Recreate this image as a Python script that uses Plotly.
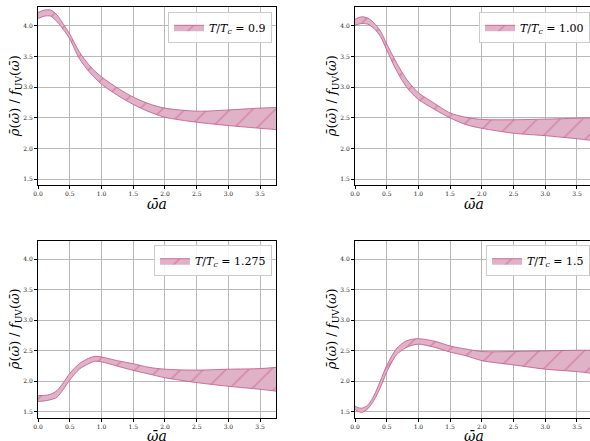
import plotly.graph_objects as go

# ---------------- data ----------------
omega_a = [0, 0.1, 0.2, 0.3, 0.4, 0.5, 0.65, 0.8, 0.9, 1.0, 1.25, 1.5, 1.75, 2.0, 2.5, 3.0, 3.5, 3.75]

upper_090 = [4.22, 4.26, 4.26, 4.18, 4.03, 3.87, 3.58, 3.37, 3.26, 3.17, 2.99, 2.84, 2.73, 2.66, 2.61, 2.63, 2.66, 2.67]
lower_090 = [4.12, 4.16, 4.16, 4.07, 3.94, 3.79, 3.47, 3.26, 3.15, 3.05, 2.87, 2.72, 2.60, 2.51, 2.43, 2.375, 2.33, 2.31]

upper_100 = [4.11, 4.15, 4.13, 4.05, 3.92, 3.71, 3.41, 3.15, 3.02, 2.91, 2.74, 2.58, 2.51, 2.475, 2.47, 2.48, 2.495, 2.50]
lower_100 = [4.01, 4.04, 4.03, 3.96, 3.83, 3.61, 3.28, 3.02, 2.90, 2.80, 2.64, 2.50, 2.39, 2.33, 2.25, 2.21, 2.16, 2.13]

upper_1275 = [1.77, 1.77, 1.79, 1.85, 1.98, 2.13, 2.29, 2.38, 2.41, 2.40, 2.34, 2.29, 2.23, 2.20, 2.185, 2.20, 2.21, 2.23]
lower_1275 = [1.67, 1.68, 1.70, 1.74, 1.87, 2.02, 2.20, 2.29, 2.33, 2.32, 2.25, 2.18, 2.12, 2.06, 1.98, 1.92, 1.87, 1.84]

upper_150 = [1.59, 1.56, 1.61, 1.77, 2.01, 2.26, 2.53, 2.66, 2.69, 2.70, 2.66, 2.58, 2.53, 2.49, 2.49, 2.50, 2.51, 2.51]
lower_150 = [1.54, 1.49, 1.55, 1.69, 1.90, 2.15, 2.43, 2.55, 2.59, 2.61, 2.56, 2.48, 2.42, 2.34, 2.27, 2.20, 2.16, 2.13]

temp_labels = ["0.9", "1.00", "1.275", "1.5"]
x_ticks = [0.0, 0.5, 1.0, 1.5, 2.0, 2.5, 3.0, 3.5]
y_ticks = [1.5, 2.0, 2.5, 3.0, 3.5, 4.0]

# ---------------- styling ----------------
W, H = 590, 441
FONT = "DejaVu Serif"
EDGE = "rgb(196,84,134)"
FILL = "rgb(224,178,199)"

uppers = [upper_090, upper_100, upper_1275, upper_150]
lowers = [lower_090, lower_100, lower_1275, lower_150]

# panel pixel boxes: (left, right, top, bottom)
boxes = [(38, 276, 7.3, 185), (355, 590, 7.3, 185),
         (38, 276, 240.7, 417.7), (355, 590, 240.7, 417.7)]
xranges = [[0, 3.75], [0, 3.706], [0, 3.75], [0, 3.706]]
yrange = [1.405, 4.305]

fig = go.Figure()
layout = dict(width=W, height=H, margin=dict(l=0, r=0, t=0, b=0),
              paper_bgcolor="white", plot_bgcolor="white",
              showlegend=True, font=dict(family=FONT, color="black"))

annotations = []
for i in range(4):
    sfx = "" if i == 0 else str(i + 1)
    xa, ya = "x" + sfx, "y" + sfx
    lg = "legend" + sfx
    fig.add_trace(go.Scatter(x=omega_a, y=lowers[i], mode="lines",
                             line=dict(color=EDGE, width=0.8, shape="spline", smoothing=0.8),
                             xaxis=xa, yaxis=ya, showlegend=False, hoverinfo="skip"))
    fig.add_trace(go.Scatter(x=omega_a, y=uppers[i], mode="lines", fill="tonexty",
                             fillcolor=FILL,
                             fillpattern=dict(shape="/", fgcolor=EDGE, bgcolor=FILL,
                                              size=16, solidity=0.09),
                             line=dict(color=EDGE, width=0.8, shape="spline", smoothing=0.8),
                             name="<i>T</i>/<i>T</i><sub><i>c</i></sub> = " + temp_labels[i],
                             xaxis=xa, yaxis=ya, legend=lg))
    l, r, t, b = boxes[i]
    axcommon = dict(showline=True, linecolor="black", linewidth=1, mirror=True,
                    ticks="outside", ticklen=3, tickwidth=0.8, tickcolor="black",
                    showgrid=True, gridcolor="#b8b8b8", gridwidth=1, zeroline=False,
                    tickfont=dict(family=FONT, size=6, color="#222"), automargin=False)
    layout["xaxis" + sfx] = dict(domain=[l / W, r / W], range=xranges[i], anchor=ya,
                                 tickvals=x_ticks, ticktext=["%.1f" % v for v in x_ticks], **axcommon)
    layout["yaxis" + sfx] = dict(domain=[1 - b / H, 1 - t / H], range=yrange, anchor=xa,
                                 tickvals=y_ticks, ticktext=["%.1f" % v for v in y_ticks], **axcommon)
    # legend box at upper right of each panel
    layout[lg] = dict(x=(r - 4) / W if i % 2 == 0 else 1.0, xanchor="right",
                      y=1 - (t + 4.5) / H, yanchor="top",
                      bgcolor="rgba(255,255,255,0.85)", bordercolor="#cccccc", borderwidth=1,
                      font=dict(family=FONT, size=11, color="black"),
                      itemwidth=30, tracegroupgap=0)
    # axis titles
    cx = (l + (l + 238)) / 2
    annotations.append(dict(text="<i>ω̄a</i>", x=cx / W, y=1 - (b + 18.5) / H,
                            xref="paper", yref="paper", showarrow=False,
                            font=dict(family=FONT, size=14, color="black"),
                            xanchor="center", yanchor="middle"))
    annotations.append(dict(text="<i>ρ̄</i>(<i>ω̄</i>) / <i>f</i><sub>UV</sub>(<i>ω̄</i>)",
                            x=(l - 23) / W, y=1 - ((t + b) / 2) / H,
                            xref="paper", yref="paper", showarrow=False, textangle=-90,
                            font=dict(family=FONT, size=13, color="black"),
                            xanchor="center", yanchor="middle"))

layout["annotations"] = annotations
fig.update_layout(**layout)
fig.write_html("out.html", config={"displayModeBar": False},
               post_script="document.body.style.margin='0';document.body.style.overflow='hidden';")
